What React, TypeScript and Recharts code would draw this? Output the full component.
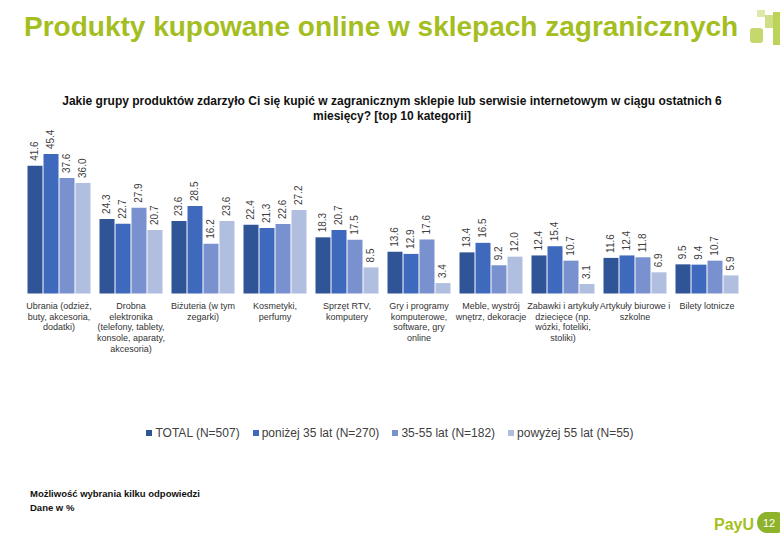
import React from "react";
import { BarChart, Bar, XAxis, YAxis, Legend, LabelList } from "recharts";

const categories = [
  "Ubrania (odzież, buty, akcesoria, dodatki)",
  "Drobna elektronika (telefony, tablety, konsole, aparaty, akcesoria)",
  "Biżuteria (w tym zegarki)",
  "Kosmetyki, perfumy",
  "Sprzęt RTV, komputery",
  "Gry i programy komputerowe, software, gry online",
  "Meble, wystrój wnętrz, dekoracje",
  "Zabawki i artykuły dziecięce (np. wózki, foteliki, stoliki)",
  "Artykuły biurowe i szkolne",
  "Bilety lotnicze",
];

const categoryLines = [
  ["Ubrania (odzież,", "buty, akcesoria,", "dodatki)"],
  ["Drobna", "elektronika", "(telefony, tablety,", "konsole, aparaty,", "akcesoria)"],
  ["Biżuteria (w tym", "zegarki)"],
  ["Kosmetyki,", "perfumy"],
  ["Sprzęt RTV,", "komputery"],
  ["Gry i programy", "komputerowe,", "software, gry", "online"],
  ["Meble, wystrój", "wnętrz, dekoracje"],
  ["Zabawki i artykuły", "dziecięce (np.", "wózki, foteliki,", "stoliki)"],
  ["Artykuły biurowe i", "szkolne"],
  ["Bilety lotnicze"],
];

const total = [41.6, 24.3, 23.6, 22.4, 18.3, 13.6, 13.4, 12.4, 11.6, 9.5];
const under35 = [45.4, 22.7, 28.5, 21.3, 20.7, 12.9, 16.5, 15.4, 12.4, 9.4];
const age35to55 = [37.6, 27.9, 16.2, 22.6, 17.5, 17.6, 9.2, 10.7, 11.8, 10.7];
const over55 = [36.0, 20.7, 23.6, 27.2, 8.5, 3.4, 12.0, 3.1, 6.9, 5.9];

const seriesNames = ["TOTAL (N=507)", "poniżej 35 lat (N=270)", "35-55 lat (N=182)", "powyżej 55 lat (N=55)"];
const seriesKeys = ["total", "under35", "age35to55", "over55"];
const seriesColors = ["#2F5597", "#3E69BC", "#7A91CF", "#B0BEDF"];

const data = categories.map((name, i) => ({
  name,
  total: total[i],
  under35: under35[i],
  age35to55: age35to55[i],
  over55: over55[i],
}));

const FONT = "'Liberation Sans', Arial, sans-serif";

const CategoryTick = (props: any) => {
  const { x, y, payload } = props;
  const idx = categories.indexOf(payload.value);
  const lines = categoryLines[idx] || [payload.value];
  return (
    <g>
      {lines.map((l, i) => (
        <text
          key={i}
          x={x}
          y={y + 15.5 + i * 10.7}
          textAnchor="middle"
          fontSize={9}
          fill="#333333"
          fontFamily={FONT}
        >
          {l}
        </text>
      ))}
    </g>
  );
};

const renderValueLabel = (props: any) => {
  const { x, y, width, value } = props;
  const cx = Number(x) + Number(width) / 2;
  const ty = Number(y) - 5;
  return (
    <text
      x={cx}
      y={ty}
      transform={`rotate(-90 ${cx} ${ty})`}
      textAnchor="start"
      dominantBaseline="central"
      fontSize={10}
      fill="#404040"
      fontFamily={FONT}
    >
      {Number(value).toFixed(1)}
    </text>
  );
};

const LegendContent = () => (
  <div
    style={{
      display: "flex",
      justifyContent: "center",
      alignItems: "center",
      fontFamily: FONT,
      fontSize: 12,
      color: "#404040",
    }}
  >
    {seriesNames.map((n, i) => (
      <div key={n} style={{ display: "flex", alignItems: "center", marginRight: i < 3 ? 13 : 0 }}>
        <span
          style={{
            display: "inline-block",
            width: 6,
            height: 6,
            background: seriesColors[i],
            marginRight: 3,
          }}
        />
        <span>{n}</span>
      </div>
    ))}
  </div>
);

export default function App() {
  return (
    <div style={{ position: "absolute", left: 0, top: 0, width: 780, height: 540, background: "#fff", overflow: "hidden" }}>
      <div
        style={{
          position: "absolute",
          left: 24,
          top: 11,
          fontFamily: FONT,
          fontWeight: "bold",
          fontSize: 28,
          color: "#A3BE1E",
          whiteSpace: "nowrap",
          lineHeight: "32px",
        }}
      >
        Produkty kupowane online w sklepach zagranicznych
      </div>
      <svg style={{ position: "absolute", left: 0, top: 0 }} width={780} height={60}>
        <rect x={757} y={10} width={8} height={7} fill="#DDE8AA" />
        <rect x={765} y={15} width={8} height={13} fill="#CFDF88" />
        <rect x={750} y={28} width={13} height={15} rx={3} fill="#C5D86E" />
        <rect x={773} y={12} width={7} height={33} fill="#BCD35A" />
      </svg>
      <div
        style={{
          position: "absolute",
          left: 0,
          width: 784,
          top: 94,
          textAlign: "center",
          fontFamily: FONT,
          fontWeight: "bold",
          fontSize: 12,
          color: "#111",
          lineHeight: "14.5px",
        }}
      >
        Jakie grupy produktów zdarzyło Ci się kupić w zagranicznym sklepie lub serwisie internetowym w ciągu ostatnich 6
        <br />
        miesięcy? [top 10 kategorii]
      </div>
      <div style={{ position: "absolute", left: 0, top: 0 }}>
        <BarChart
          width={780}
          height={540}
          data={data}
          margin={{ top: 140, right: 37, bottom: 186.5, left: 23 }}
          barCategoryGap="6.25%"
          barGap={1}
        >
          <XAxis
            dataKey="name"
            axisLine={false}
            tickLine={false}
            tickSize={0}
            tickMargin={0}
            interval={0}
            height={60}
            tick={<CategoryTick />}
          />
          <YAxis hide domain={[0, 50]} />
          <Legend
            verticalAlign="middle"
            align="center"
            layout="horizontal"
            wrapperStyle={{ top: 426, left: 0, width: 780 }}
            content={<LegendContent />}
          />
          {seriesKeys.map((k, i) => (
            <Bar key={k} dataKey={k} name={seriesNames[i]} fill={seriesColors[i]} isAnimationActive={false}>
              <LabelList dataKey={k} content={renderValueLabel} />
            </Bar>
          ))}
        </BarChart>
      </div>
      <div
        style={{
          position: "absolute",
          left: 30,
          top: 487,
          fontFamily: FONT,
          fontWeight: "bold",
          fontSize: 9.5,
          color: "#111",
          lineHeight: "14px",
        }}
      >
        Możliwość wybrania kilku odpowiedzi
        <br />
        Dane w %
      </div>
      <svg style={{ position: "absolute", left: 0, top: 490 }} width={780} height={50}>
        <text x={714} y={40} fontFamily={FONT} fontWeight="bold" fontSize={16} fill="#A6C01E">
          PayU
        </text>
        <rect x={757} y={22} width={30} height={21} rx={10} fill="#8DB32B" />
        <text x={769} y={37} textAnchor="middle" fontFamily={FONT} fontSize={11} fill="#fff">
          12
        </text>
      </svg>
    </div>
  );
}
